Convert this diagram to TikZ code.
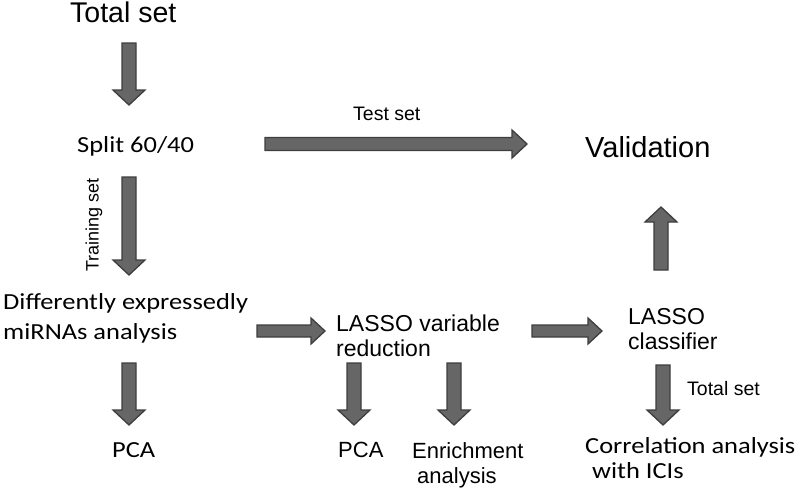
\documentclass[tikz,border=0pt]{standalone}
\usepackage{fontspec}
\setmainfont{Liberation Sans}
\newfontfamily\calib[FakeStretch=1.15]{Carlito}
\usetikzlibrary{calc}
\definecolor{arrowfill}{HTML}{666666}
\definecolor{arrowline}{HTML}{3E3E3E}
\newcommand{\baw}{7pt}
\newcommand{\bahw}{16pt}
\newcommand{\bah}{15pt}
\tikzset{
  ba w/.store in=\baw,
  ba hw/.store in=\bahw,
  ba h/.store in=\bah,
  blockarrow/.style={draw=arrowline, fill=arrowfill, line width=1.3pt, line join=miter,
    to path={
      ($(\tikztotarget)!\bah!(\tikztostart)$) coordinate (bc)
      ($(\tikztostart)!\baw!90:(\tikztotarget)$)
      -- ($(bc)!\baw!-90:(\tikztostart)$)
      -- ($(bc)!\bahw!-90:(\tikztostart)$)
      -- (\tikztotarget)
      -- ($(bc)!\bahw!90:(\tikztostart)$)
      -- ($(bc)!\baw!90:(\tikztostart)$)
      -- ($(\tikztostart)!\baw!-90:(\tikztotarget)$)
      -- cycle}},
  harrow/.style={blockarrow, ba w=6pt, ba hw=13pt, ba h=14pt},
  arial/.style={inner sep=0pt, font=\fontsize{#1}{#1}\selectfont},
  calibri/.style={inner sep=0pt, font=\calib\fontsize{#1}{#1}\selectfont},
}
\begin{document}
\begin{tikzpicture}[x=1pt, y=-1pt]
\useasboundingbox (0,0) rectangle (800,488);
% texts
\node[arial=28.5, anchor=base west] (total) at (70,22) {Total set};
\node[calibri=23, anchor=base west] (split) at (77,152) {Split 60/40};
\node[arial=19.5, anchor=base west] (testlbl) at (353,120) {Test set};
\node[arial=29, anchor=base west] (valid) at (585,157) {Validation};
\node[arial=18, rotate=90] (trainlbl) at (94,225) {Training set};
\node[calibri=23, anchor=north west, align=left, font=\calib\fontsize{23}{30}\selectfont] (diff) at (3,293) {Differently expressedly\\miRNAs analysis};
\node[arial=23, anchor=north west, align=left, font=\fontsize{23}{25}\selectfont] (lvr) at (336,315) {LASSO variable\\reduction};
\node[arial=23, anchor=north west, align=left, font=\fontsize{23}{25}\selectfont] (lcl) at (628,308) {LASSO\\classifier};
\node[calibri=23, anchor=base west] (pca1) at (112,457) {PCA};
\node[arial=22, anchor=base west] (pca2) at (338,457) {PCA};
\node[arial=22, anchor=north west, align=left, font=\fontsize{22}{25}\selectfont] (enr) at (412,442) {Enrichment\\\hspace*{5pt}analysis};
\node[calibri=23, anchor=north west, align=left, font=\calib\fontsize{23}{25}\selectfont] (corr) at (585,437) {Correlation analysis\\\hspace*{7pt}with ICIs};
\node[arial=19.5, anchor=base west] (totlbl) at (687,395) {Total set};
% arrow end points
\coordinate (a1s) at (129,43);   \coordinate (a1e) at (129,105);
\coordinate (a2s) at (265,144);  \coordinate (a2e) at (527,144);
\coordinate (a3s) at (129,177);  \coordinate (a3e) at (129,275);
\coordinate (a4s) at (257,331);  \coordinate (a4e) at (325,331);
\coordinate (a5s) at (532,331);  \coordinate (a5e) at (602,331);
\coordinate (a6s) at (661,270);  \coordinate (a6e) at (661,207);
\coordinate (a7s) at (129,363);  \coordinate (a7e) at (129,425);
\coordinate (a8s) at (354,363);  \coordinate (a8e) at (354,425);
\coordinate (a9s) at (454,363);  \coordinate (a9e) at (454,425);
\coordinate (a10s) at (663,365); \coordinate (a10e) at (663,425);
% arrows
\draw[blockarrow] (a1s) to (a1e);
\draw[blockarrow, ba w=6.5pt, ba hw=14pt] (a2s) to (a2e);
\draw[blockarrow] (a3s) to (a3e);
\draw[harrow] (a4s) to (a4e);
\draw[harrow] (a5s) to (a5e);
\draw[blockarrow] (a6s) to (a6e);
\draw[blockarrow] (a7s) to (a7e);
\draw[blockarrow] (a8s) to (a8e);
\draw[blockarrow] (a9s) to (a9e);
\draw[blockarrow] (a10s) to (a10e);
\end{tikzpicture}
\end{document}
